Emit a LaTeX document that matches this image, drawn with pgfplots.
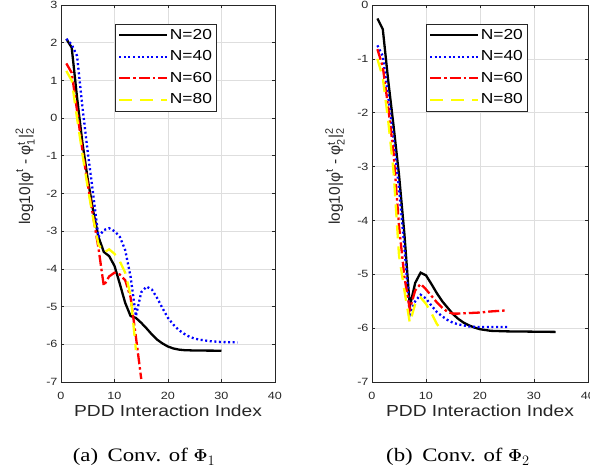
\documentclass[border=0pt]{standalone}
\usepackage[no-math]{fontspec}
\usepackage{amsmath}
\usepackage{pgfplots}
\pgfplotsset{compat=1.18}
\setmainfont{Liberation Serif}
\newfontfamily\axfont{Liberation Sans}[FakeStretch=1.2]
\newfontfamily\ylfont{Liberation Sans}
\newfontfamily\capfont{Liberation Serif}[FakeStretch=1.2]
\definecolor{mgray}{rgb}{0.15,0.15,0.15}
\definecolor{mgrid}{rgb}{0.87,0.87,0.87}
\definecolor{myellow}{rgb}{1,1,0}

\pgfplotstableread{
x y
1 2.1
2 1.87
3 0.55
4 -0.65
5 -1.62
6 -2.45
7 -3.15
8 -3.55
9 -3.66
10 -3.92
11 -4.4
12 -4.9
13 -5.25
14 -5.3
15 -5.43
16 -5.58
17 -5.74
18 -5.88
19 -5.98
20 -6.06
21 -6.11
22 -6.14
23 -6.155
25 -6.165
30 -6.17
}\LA
\pgfplotstableread{
x y
1 2.1
2 1.95
3 1.65
4 0.3
5 -0.9
6 -2.0
7 -3.15
8 -2.97
9 -2.92
10 -3.0
11 -3.15
12 -3.5
13 -4.2
14 -5.25
15 -4.62
16 -4.47
17 -4.55
18 -4.78
19 -5.05
20 -5.3
21 -5.48
22 -5.62
23 -5.72
24 -5.8
25 -5.85
26 -5.88
27 -5.9
28 -5.92
30 -5.94
33 -5.95
}\LB
\pgfplotstableread{
x y
1 1.45
2 1.2
3 0.2
4 -0.85
5 -1.75
6 -2.6
7 -3.45
8 -4.45
9 -4.2
10 -4.1
11 -4.15
12 -4.3
13 -4.75
14 -5.8
15 -6.92
}\LC
\pgfplotstableread{
x y
1 1.25
2 1.0
3 0.0
4 -0.95
5 -1.85
6 -2.65
7 -3.35
8 -3.57
9 -3.48
10 -3.6
11 -3.8
12 -4.1
13 -4.7
14 -6.15
}\LD
\pgfplotstableread{
x y
1 -0.25
2 -0.45
3 -1.4
4 -2.25
5 -3.15
6 -4.25
7 -5.6
8 -5.16
9 -4.97
10 -5.02
11 -5.18
12 -5.35
13 -5.5
14 -5.62
15 -5.74
16 -5.83
17 -5.9
18 -5.95
19 -5.99
20 -6.02
22 -6.05
25 -6.06
34 -6.07
}\RA
\pgfplotstableread{
x y
1 -0.75
2 -0.95
3 -1.7
4 -2.5
5 -3.4
6 -4.5
7 -5.75
8 -5.5
9 -5.38
10 -5.45
11 -5.58
12 -5.7
13 -5.78
14 -5.85
15 -5.9
16 -5.93
17 -5.95
18 -5.97
20 -5.98
25 -5.98
}\RB
\pgfplotstableread{
x y
1 -0.82
2 -1.15
3 -1.9
4 -2.75
5 -4.1
6 -5.05
7 -5.65
8 -5.3
9 -5.18
10 -5.28
11 -5.4
12 -5.52
13 -5.62
14 -5.7
15 -5.73
16 -5.73
18 -5.72
20 -5.71
22 -5.69
25 -5.67
}\RC
\pgfplotstableread{
x y
1 -1.0
2 -1.35
3 -2.15
4 -3.1
5 -4.65
6 -5.3
7 -5.9
8 -5.55
9 -5.43
10 -5.55
11 -5.72
12 -5.92
13 -6.05
}\RD

\pgfplotsset{mstyle/.style={
  scale only axis, height=377pt,
  xmin=0, xmax=40, xtick={0,10,20,30,40}, xticklabels={0,10,20,30,40},
  axis line style={mgray, line width=0.6pt},
  tick style={mgray, line width=0.6pt},
  major tick length=3pt,
  grid=major, grid style={mgrid, line width=0.6pt},
  tick label style={font=\axfont\fontsize{10.5}{12}\selectfont, text=mgray},
  xticklabel style={anchor=base, yshift=-17.5pt},
  xlabel style={font=\axfont\fontsize{16}{18}\selectfont, text=mgray, at={(axis description cs:0.5,-0.0928)}, anchor=base},
  ylabel style={font=\ylfont\fontsize{15.5}{18}\selectfont, text=mgray, anchor=center},
  legend style={anchor=north west, draw=mgray, fill=white,
     font=\axfont\fontsize{14.5}{16}\selectfont,
     inner xsep=3pt, inner ysep=3pt, row sep=5pt,
     nodes={inner sep=1.5pt, text height=10.5pt, text depth=3pt}, cells={anchor=west}},
  legend image code/.code={\draw[##1] (0pt,0pt) -- (48pt,0pt);},
  xlabel={PDD Interaction Index},
}}
\tikzset{
  s20/.style={black, line width=2.3pt},
  s40/.style={blue, line width=2.3pt, dash pattern=on 2pt off 2.6pt},
  s60/.style={red, line width=2.3pt, dash pattern=on 11pt off 3pt on 2.5pt off 3pt},
  s80/.style={myellow, line width=2.3pt, dash pattern=on 13pt off 8pt},
}

\begin{document}
\begin{tikzpicture}[x=1pt,y=1pt]
\useasboundingbox (0,0) rectangle (590,474);
\begin{axis}[mstyle, at={(61pt,92pt)}, anchor=south west, width=214pt,
  ymin=-7, ymax=3, ytick={-7,-6,-5,-4,-3,-2,-1,0,1,2,3},
  yticklabels={-7,-6,-5,-4,-3,-2,-1,0,1,2,3},
  ylabel={$\text{log10|φ}^{\text{t}}\text{ - φ}^{\text{t}}_{\text{1}}\text{|}^{\text{2}}_{\text{2}}$},
  ylabel style={at={(axis description cs:-0.168,0.545)}},
  legend style={at={(axis description cs:0.252,0.95)}},
]
\addplot[s20] table[x=x,y=y] {\LA};
\addplot[s40] table[x=x,y=y] {\LB};
\addplot[s60] table[x=x,y=y] {\LC};
\addplot[s80] table[x=x,y=y] {\LD};
\legend{N=20,N=40,N=60,N=80}
\end{axis}
\begin{axis}[mstyle, at={(372pt,92pt)}, anchor=south west, width=216pt,
  ymin=-7, ymax=0, ytick={-7,-6,-5,-4,-3,-2,-1,0},
  yticklabels={-7,-6,-5,-4,-3,-2,-1,0},
  ylabel={$\text{log10|φ}^{\text{t}}\text{ - φ}^{\text{t}}_{\text{2}}\text{|}^{\text{2}}_{\text{2}}$},
  ylabel style={at={(axis description cs:-0.171,0.545)}},
  legend style={at={(axis description cs:0.249,0.95)}},
]
\addplot[s20] table[x=x,y=y] {\RA};
\addplot[s40] table[x=x,y=y] {\RB};
\addplot[s60] table[x=x,y=y] {\RC};
\addplot[s80] table[x=x,y=y] {\RD};
\legend{N=20,N=40,N=60,N=80}
\end{axis}
\node[anchor=base, font=\capfont\fontsize{19}{21}\selectfont] at (144,12) {(a)\enspace Conv. of $\mathbf{\Phi}_1$};
\node[anchor=base, font=\capfont\fontsize{19}{21}\selectfont] at (458,12) {(b)\enspace Conv. of $\mathbf{\Phi}_2$};
\end{tikzpicture}
\end{document}
